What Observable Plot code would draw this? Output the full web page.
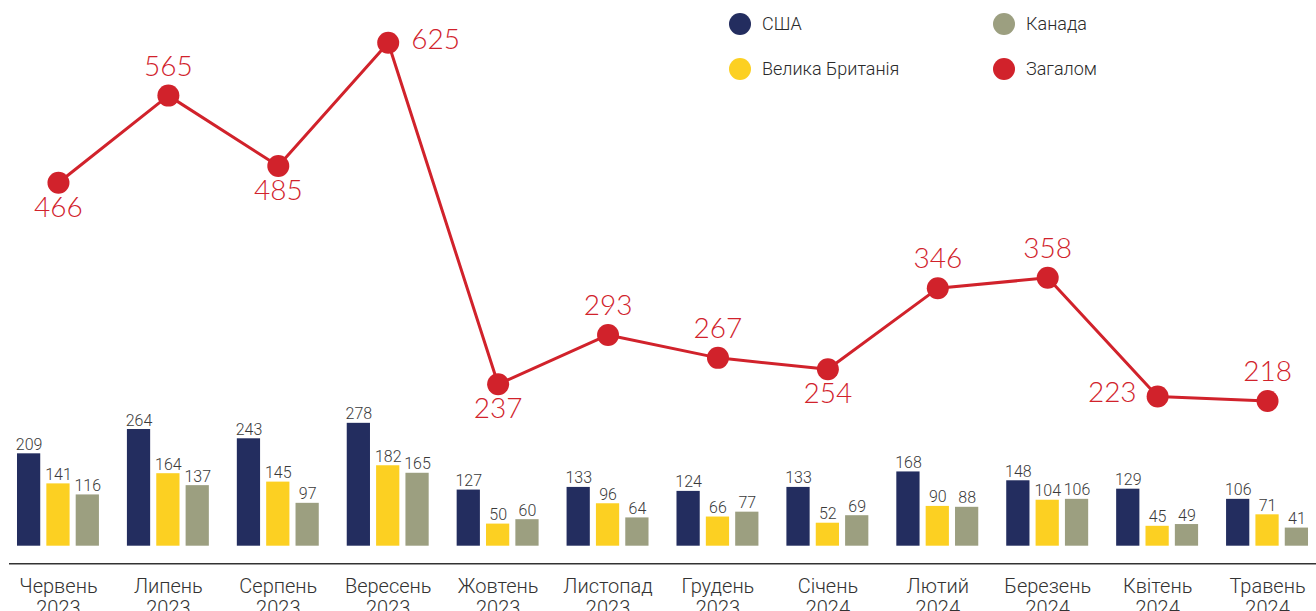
<!DOCTYPE html>
<html><head><meta charset="utf-8">
<script src="https://cdn.jsdelivr.net/npm/d3@7"></script>
<script src="https://cdn.jsdelivr.net/npm/@observablehq/plot@0.6"></script>
<style>
html,body{margin:0;padding:0;background:#fff;overflow:hidden}
#wrap{position:relative;width:1316px;height:611px;overflow:hidden}
#wrap svg{position:absolute;left:0;top:0}
.lg{position:absolute;font-family:Roboto,sans-serif;font-weight:300;font-size:18px;color:#2a2a2a;line-height:22px;white-space:nowrap}
.lg .dot{position:absolute;width:22px;height:22px;border-radius:50%;left:-33px;top:0}
</style></head><body><div id="wrap"></div>
<script>
const months = ["Червень","Липень","Серпень","Вересень","Жовтень","Листопад","Грудень","Січень","Лютий","Березень","Квітень","Травень"];
const years = ["2023","2023","2023","2023","2023","2023","2023","2024","2024","2024","2024","2024"];
const usa    = [209,264,243,278,127,133,124,133,168,148,129,106];
const uk     = [141,164,145,182, 50, 96, 66, 52, 90,104, 45, 71];
const canada = [116,137, 97,165, 60, 64, 77, 69, 88,106, 49, 41];
const total  = [466,565,485,625,237,293,267,254,346,358,223,218];
const seriesNames = ["США","Велика Британія","Канада","Загалом"];

const placement = ["below","above","below","right","below","above","above","below","above","above","left","above"];
const C = {usa:"#232d5f", uk:"#fcd022", canada:"#9c9f80", total:"#d1222b"};

const labels = months.map((m,i)=>m+"\n"+years[i]);
const rows = labels.map((l,i)=>({label:l, usa:usa[i], uk:uk[i], canada:canada[i], total:total[i], place:placement[i]}));

const xOpts = {type:"band", domain:labels, paddingInner:0.2545, paddingOuter:0.0727, round:false, axis:null};
const W = 1316, H = 611;
const inset = 58.7, half = 29.35;
const txt = {fontSize:16, fill:"#3a3a3a", lineAnchor:"bottom", dy:-4, fontWeight:300};

const bars = Plot.plot({
  width:W, height:H, marginLeft:9, marginRight:0, marginTop:0, marginBottom:65.3,
  x:xOpts, y:{domain:[0,1234.6], axis:null},
  style:{fontFamily:"Roboto", background:"transparent", overflow:"hidden"},
  marks:[
    Plot.barY(rows,{x:"label", y:"usa", fill:C.usa, insetRight:inset}),
    Plot.barY(rows,{x:"label", y:"uk", fill:C.uk, insetLeft:half, insetRight:half}),
    Plot.barY(rows,{x:"label", y:"canada", fill:C.canada, insetLeft:inset}),
    Plot.text(rows,{x:"label", y:"usa", text:"usa", dx:-half, ...txt}),
    Plot.text(rows,{x:"label", y:"uk", text:"uk", ...txt}),
    Plot.text(rows,{x:"label", y:"canada", text:"canada", dx:half, ...txt}),
    Plot.ruleY([0],{dy:17.6, stroke:"#333", strokeWidth:1.5}),
    Plot.text(rows,{x:"label", text:"label", frameAnchor:"bottom", dy:31.5, lineAnchor:"top", fontSize:20, lineHeight:1.1, fill:"#333", fontWeight:300})
  ]
});

const lt = {x:"label", y:"total", text:"total", fontSize:28, fill:C.total, fontFamily:"Lato", fontWeight:300};
const line = Plot.plot({
  width:W, height:H, marginLeft:9, marginRight:0, marginTop:0, marginBottom:18.7,
  x:xOpts, y:{domain:[0,673.1], axis:null},
  style:{fontFamily:"Lato", background:"transparent"},
  marks:[
    Plot.line(rows,{x:"label", y:"total", stroke:C.total, strokeWidth:3}),
    Plot.dot(rows,{x:"label", y:"total", r:11, fill:C.total}),
    Plot.text(rows.filter(d=>d.place==="above"),{...lt, dy:-29}),
    Plot.text(rows.filter(d=>d.place==="below"),{...lt, dy:25}),
    Plot.text(rows.filter(d=>d.place==="right"),{...lt, dx:23, dy:-3, textAnchor:"start"}),
    Plot.text(rows.filter(d=>d.place==="left"),{...lt, dx:-21, dy:-4, textAnchor:"end"})
  ]
});

const wrap = document.getElementById("wrap");
wrap.appendChild(bars);
wrap.appendChild(line);

const legendPos = [[762,13],[762,58],[1026,13],[1026,58]];
const legendCol = [C.usa, C.uk, C.canada, C.total];
seriesNames.forEach((n,i)=>{
  const d = document.createElement("div");
  d.className = "lg";
  d.style.left = legendPos[i][0]+"px";
  d.style.top = legendPos[i][1]+"px";
  d.innerHTML = `<span class="dot" style="background:${legendCol[i]}"></span>${n}`;
  wrap.appendChild(d);
});
</script>
</body></html>
